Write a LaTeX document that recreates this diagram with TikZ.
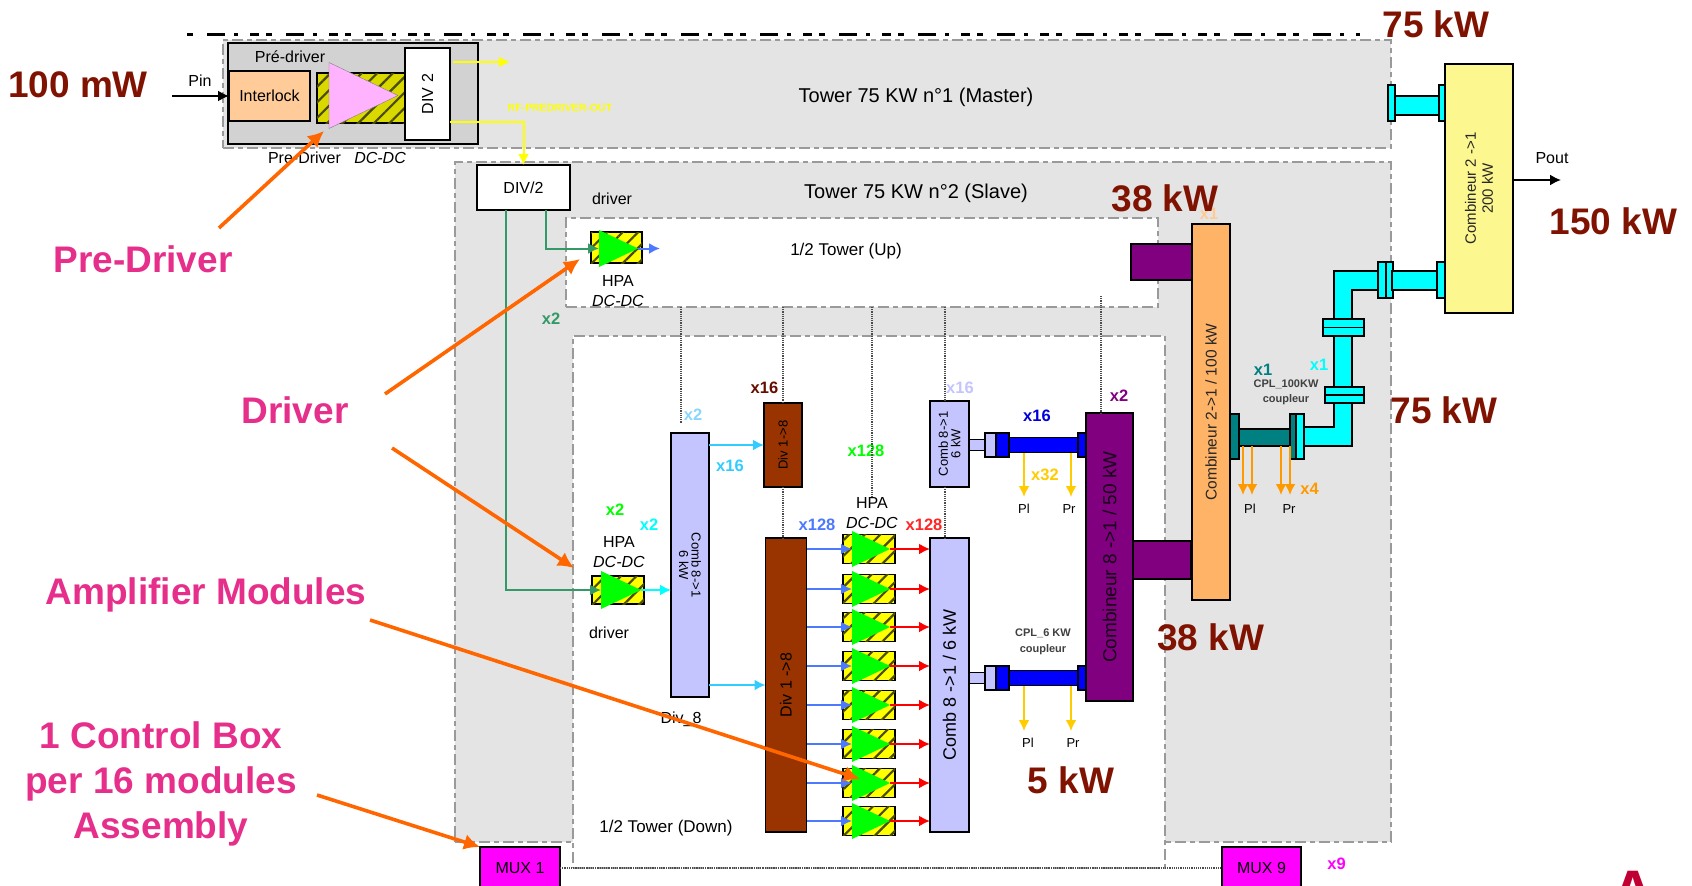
\documentclass[tikz,border=0pt]{standalone}
\usepackage{fontspec}
\usepackage{graphicx}
\setmainfont{Liberation Sans}
\usetikzlibrary{arrows.meta,positioning,shapes.geometric,patterns.meta}
\definecolor{towergray}{HTML}{E4E4E4}
\definecolor{pregray}{HTML}{D2D2D2}
\definecolor{edgegray}{HTML}{9A9A9A}
\definecolor{maroon}{HTML}{7F1200}
\definecolor{callpink}{HTML}{E62E8B}
\definecolor{callorange}{HTML}{FF6600}
\definecolor{lavend}{HTML}{C4C4FF}
\definecolor{brownbox}{HTML}{993300}
\definecolor{purplebox}{HTML}{800080}
\definecolor{orangebox}{HTML}{FFB366}
\definecolor{paleyel}{HTML}{FDF78F}
\definecolor{peach}{HTML}{FFCC99}
\definecolor{rfgreen}{HTML}{339966}
\definecolor{tealbox}{HTML}{008080}
\definecolor{logored}{HTML}{C00033}
\definecolor{pcyan}{HTML}{00FFFF}
\definecolor{pyellow}{HTML}{FFFF00}
\definecolor{pmagenta}{HTML}{FF00FF}
\definecolor{pgreen}{HTML}{00FF00}
\definecolor{ppink}{HTML}{FFB3FF}
\definecolor{skyline}{HTML}{33CCFF}
\definecolor{modblue}{HTML}{4D79FF}
\definecolor{amber}{HTML}{FFCC00}
\definecolor{porange}{HTML}{FF9900}
\begin{document}
\begin{tikzpicture}[x=1pt,y=-1pt,every node/.style={inner sep=0pt,outer sep=0pt,font=\fontsize{16}{18}\selectfont,align=center}, big/.style={text=maroon,font=\fontsize{37}{40}\bfseries\selectfont}, call/.style={text=callpink,font=\fontsize{37}{45}\bfseries\selectfont}, tag/.style={font=\fontsize{16.5}{18}\bfseries\selectfont}, tiny/.style={font=\fontsize{11}{14}\bfseries\selectfont,text=black!75}, wh/.style 2 args={minimum width=#1,minimum height=#2}, box/.style={draw=black,line width=1.8pt,rectangle}, zone/.style={draw=edgegray,line width=1.6pt,dash pattern=on 11pt off 4pt on 5pt off 4pt,rectangle}, hatch/.style={box,fill=#1,postaction={pattern={Lines[angle=45,distance=11pt,line width=2.2pt]},pattern color=black!70!pyellow}}, amp/.style={isosceles triangle,isosceles triangle apex angle=60,isosceles triangle stretches,shape border rotate=0,anchor=lower side,fill=#1}, pipe/.style={->,line width=2pt,color=#1}, callout/.style={-{Latex[length=16pt,width=16pt]},line width=3.6pt,color=callorange}, dots/.style={densely dotted,line width=1.2pt,color=black!70}, >={Latex[length=11pt,width=11pt]}]
\clip (0,0) rectangle (1692,886);
\draw[line width=2.6pt,dash pattern=on 6pt off 14pt on 18pt off 9pt on 4pt off 12pt on 9pt off 7pt] (187,34.5) -- (1360,34.5);
\node[zone,fill=towergray,wh={1168}{108}] (tower1) at (807,94) {};
\node[zone,fill=towergray,wh={936}{680}] (tower2) at (923,502) {};
\node[zone,fill=white,wh={592}{89}] (uphalf) at (862,262.5) {};
\node[zone,fill=white,wh={592}{532}] (downhalf) at (869,602) {};
\node[font=\fontsize{20}{22}\selectfont] (t1lab) at (916,97) {Tower 75 KW n°1 (Master)};
\node[font=\fontsize{20}{22}\selectfont] (t2lab) at (916,193) {Tower 75 KW n°2 (Slave)};
\node[font=\fontsize{17}{20}\selectfont] (uplab) at (846,251) {1/2 Tower (Up)};
\node[font=\fontsize{17}{20}\selectfont] (downlab) at (666,828) {1/2 Tower (Down)};
\node[box,fill=pregray,wh={250}{101}] (prebox) at (353,93.5) {};
\node[box,fill=peach,wh={81}{50}] (interlock) at (269.5,96) {Interlock};
\node[hatch=pyellow!85!black,wh={88}{50}] (predc) at (361,98) {};
\node[amp=ppink,draw=gray,minimum width=66,minimum height=69] (pretri) at (329,95.5) {};
\node[box,fill=white,wh={45}{92}] (div2) at (427.5,94) {\rotatebox{90}{DIV 2}};
\node[box,fill=white,wh={93}{45}] (div2b) at (523.5,187.5) {DIV/2};
\node (prelab) at (290,57) {Pré-driver};
\node (pinlab) at (200,81) {Pin};
\node (predclab) at (337,158) {Pre-Driver\ \ \ \textit{DC-DC}};
\node[font=\fontsize{10.5}{12}\bfseries\selectfont,text=pyellow] (rflab) at (560,108) {RF-PREDRIVER-OUT};
\node (drvup) at (612,199) {driver};
\node[hatch=pyellow,wh={51}{31}] (uphpa) at (616.5,247.5) {};
\node[amp=pgreen,minimum width=37,minimum height=39] (uptri) at (599,248.5) {};
\node (uphpalab) at (618,291) {HPA\\[2pt]\textit{DC-DC}};
\node[tag,text=rfgreen] (x2a) at (551,319) {x2};
\node[hatch=pyellow,wh={52}{28}] (drvbox) at (618,590) {};
\node[amp=pgreen,minimum width=38,minimum height=40] (drvtri) at (601,590) {};
\node (drvhpa) at (619,552) {HPA\\[2pt]\textit{DC-DC}};
\node (drvlab) at (609,633) {driver};
\node[tag,text=pgreen] (x2b) at (615,510) {x2};
\node[tag,text=pcyan] (x2c) at (649,525) {x2};
\node[box,fill=lavend,wh={38}{264}] (comb6w) at (690,565) {\rotatebox{-90}{\shortstack{\fontsize{13}{15}\selectfont Comb 8->1\\\fontsize{13}{15}\selectfont 6 kW}}};
\node[box,fill=brownbox,wh={38}{84}] (divsmall) at (783,445) {\rotatebox{90}{\fontsize{13}{15}\selectfont Div 1->8}};
\node[box,fill=brownbox,wh={41}{294}] (divbig) at (786,685) {\rotatebox{90}{Div 1 ->8}};
\node[box,fill=lavend,wh={39}{86}] (combsmall) at (949.5,444) {\rotatebox{90}{\shortstack{\fontsize{13}{15}\selectfont Comb 8->1\\\fontsize{13}{15}\selectfont 6 kW}}};
\node[box,fill=lavend,wh={39}{294}] (combbig) at (949.5,685) {\rotatebox{90}{\fontsize{18}{20}\selectfont Comb 8 ->1 / 6 kW}};
\node (div8lab) at (681,719) {Div\_8};
\node[tag,text=lavend!70!pcyan] (x2d) at (693,415) {x2};
\node[tag,text=maroon!80!black] (x16a) at (764.5,388) {x16};
\node[tag,text=skyline] (x16b) at (730,466) {x16};
\node[tag,text=pgreen] (x128a) at (866,451) {x128};
\node[tag,text=lavend] (x16c) at (960,388) {x16};
\node[tag,text=blue!85!black] (x16d) at (1037,416) {x16};
\node[tag,text=modblue] (x128b) at (817,525) {x128};
\node[tag,text=red!85!white] (x128c) at (924,525) {x128};
\node (hpalab) at (872,513) {HPA\\[2pt]\textit{DC-DC}};
\foreach \n/\y in {a/445,b/678}{
\node[box,fill=lavend,wh={16}{11}] (stub\n) at (977,\y) {};
\node[box,fill=lavend,wh={11}{24}] (lav\n) at (990.5,\y) {};
\node[box,fill=blue,wh={13}{24}] (flange\n) at (1002.5,\y) {};
\node[box,fill=blue,wh={69}{15}] (tube\n) at (1043.5,\y) {};
\node[box,fill=blue,wh={8}{24}] (flangr\n) at (1082,\y) {};
}
\coordinate (pla) at (1024,497);
\coordinate (pra) at (1071,497);
\coordinate (plb) at (1024,731);
\coordinate (prb) at (1071,731);
\node[font=\fontsize{13}{15}\selectfont] (pllaba) at (1024,509) {Pl};
\node[font=\fontsize{13}{15}\selectfont] (prlaba) at (1069,509) {Pr};
\node[font=\fontsize{13}{15}\selectfont] (pllabb) at (1028,743) {Pl};
\node[font=\fontsize{13}{15}\selectfont] (prlabb) at (1073,743) {Pr};
\node[tag,text=amber] (x32) at (1045,475) {x32};
\node[tiny] (cpl6) at (1043,642) {CPL\_6 KW\\[2pt]coupleur};
\node[box,fill=purplebox,wh={47}{288},text=black!80!purplebox] (comb50) at (1109.5,557) {\rotatebox{90}{\fontsize{19}{22}\selectfont Combineur 8 ->1 / 50 kW}};
\node[box,fill=purplebox,wh={58}{38}] (stublow) at (1162,560) {};
\node[box,fill=purplebox,wh={61}{36}] (stubup) at (1161.5,262) {};
\node[box,fill=orangebox,wh={38}{376},text=black!85] (comb100) at (1211,412) {\rotatebox{90}{\fontsize{15.5}{18}\selectfont Combineur 2->1 / 100 kW}};
\node[tag,text=purplebox] (x2e) at (1119,396) {x2};
\node[tag,text=orangebox!70!white] (x1a) at (1209,214) {x1};
\draw[box,fill=pcyan] (1378,271) -- (1334,271) -- (1334,427) -- (1304,427) -- (1304,446) -- (1352,446) -- (1352,290) -- (1378,290) -- cycle;
\node[box,fill=tealbox,wh={9}{45}] (tflange) at (1234.5,436.5) {};
\node[box,fill=tealbox,wh={51}{17}] (ttube) at (1264.5,437.5) {};
\node[box,fill=tealbox,wh={6}{45}] (tflanger) at (1293,436.5) {};
\node[box,fill=pcyan,wh={8}{45}] (cflange) at (1300,436.5) {};
\node[box,fill=pcyan,wh={41}{17}] (vflangea) at (1343.5,327.5) {};
\node[box,fill=pcyan,wh={39}{15.5}] (vflangeb) at (1344.5,395) {};
\node[box,fill=pcyan,wh={8}{36}] (dflangea) at (1382,280) {};
\node[box,fill=pcyan,wh={7}{36}] (dflangeb) at (1389.5,280) {};
\node[box,fill=pcyan,wh={45}{19}] (ctube) at (1414.5,280.5) {};
\node[box,fill=pcyan,wh={8}{36}] (cflanger) at (1441,280) {};
\node[box,fill=pcyan,wh={7}{36}] (topleft) at (1391.5,103) {};
\node[box,fill=pcyan,wh={44}{19}] (toptube) at (1417,105.5) {};
\node[box,fill=pcyan,wh={6}{36}] (topright) at (1442,103) {};
\node[box,fill=paleyel,wh={68}{249},text=black!85] (comb200) at (1479,188.5) {\rotatebox{90}{\shortstack{\fontsize{15}{18}\selectfont Combineur 2 ->1\\[3pt]\fontsize{15}{18}\selectfont 200 kW}}};
\draw[line width=1.2pt] (vflangea.west) -- (vflangea.east);
\draw[line width=1.2pt] (vflangeb.west) -- (vflangeb.east);
\node (poutlab) at (1552,158) {Pout};
\coordinate (pout) at (1561,180);
\coordinate (pinin) at (172,96);
\node[tag,text=tealbox] (x1b) at (1263,370) {x1};
\node[tag,text=pcyan] (x1c) at (1319,365) {x1};
\node[tiny] (cpl100) at (1286,392) {CPL\_100KW\\[1pt]coupleur};
\node[tag,text=porange] (x4) at (1309.5,489) {x4};
\node[font=\fontsize{13}{15}\selectfont] (pl100) at (1250,509) {Pl};
\node[font=\fontsize{13}{15}\selectfont] (pr100) at (1289,509) {Pr};
\coordinate (arra) at (1243,495);
\coordinate (arrb) at (1252,495);
\coordinate (arrc) at (1281,495);
\coordinate (arrd) at (1290,495);
\node[box,fill=pmagenta,wh={80}{42}] (mux1) at (520,868) {MUX 1};
\node[box,fill=pmagenta,wh={79}{42}] (mux9) at (1261.5,868) {MUX 9};
\node[tag,text=pmagenta] (x9) at (1336.5,864) {x9};
\draw[dots] (mux1.east |- downhalf.south) -- (mux9.west |- downhalf.south);
\coordinate (dota) at (681,423);
\coordinate (dotb) at (1101,296);
\draw[dots] (uphalf.south -| dota) -- (dota);
\draw[dots] (uphalf.south -| divsmall) -- (divsmall.north);
\draw[dots] (divsmall.south) -- (divsmall.south |- divbig.north);
\draw[dots] (uphalf.south -| hpalab) -- (hpalab.north);
\draw[dots] ([xshift=-4.5pt]combsmall.north |- uphalf.south) -- ([xshift=-4.5pt]combsmall.north);
\draw[dots] ([xshift=-4.5pt]combsmall.south) -- ([xshift=-4.5pt]combbig.north);
\draw[dots] (dotb) -- (dotb |- comb50.north);
\draw[->,line width=1.8pt] (pinin) -- (interlock.west);
\draw[->,line width=1.8pt] ([yshift=8.5pt]comb200.east) -- (pout);
\draw[pipe=pyellow] ([xshift=3pt,yshift=32pt]div2.east) -- ++(57,0);
\draw[pipe=pyellow] ([yshift=-28pt]div2.east) -| (div2b.north);
\draw[pipe=rfgreen] ([xshift=-18pt]div2b.south) |- (drvtri.lower side);
\draw[pipe=rfgreen] ([xshift=22.5pt]div2b.south) |- (uptri.lower side);
\draw[pipe=modblue] (uptri.apex) -- ++(22,0);
\draw[pipe=pcyan] (drvtri.apex) -- (comb6w.west |- drvtri);
\draw[pipe=skyline] (comb6w.east |- divsmall) -- (divsmall.west);
\draw[pipe=skyline] (comb6w.east |- divbig) -- (divbig.west);
\draw[pipe=amber] (tubea.south -| pla) -- (pla);
\draw[pipe=amber] (tubea.south -| pra) -- (pra);
\draw[pipe=amber] (tubeb.south -| plb) -- (plb);
\draw[pipe=amber] (tubeb.south -| prb) -- (prb);
\draw[pipe=porange] (ttube.south -| arra) -- (arra);
\draw[pipe=porange] (ttube.south -| arrb) -- (arrb);
\draw[pipe=porange] (ttube.south -| arrc) -- (arrc);
\draw[pipe=porange] (ttube.south -| arrd) -- (arrd);
\foreach \i/\y in {1/549,2/589,3/627,4/666,5/705,6/744,7/783,8/821}{
\node[hatch=pyellow,wh={52}{29}] (hat\i) at (869,\y) {};
\node[amp=pgreen,minimum width=36,minimum height=38] (tri\i) at (852,\y) {};
\draw[pipe=modblue] (divbig.east |- hat\i) -- (tri\i.lower side);
\draw[pipe=red] (tri\i.apex) -- (combbig.west |- hat\i);
}
\node[big] (p100) at (78,85) {100 mW};
\node[big] (p75a) at (1436,24) {75 kW};
\node[big] (p38a) at (1165,198) {38 kW};
\node[big] (p150) at (1613.5,221) {150 kW};
\node[big] (p75b) at (1444,410) {75 kW};
\node[big] (p38b) at (1210.5,637) {38 kW};
\node[big] (p5) at (1071,780) {5 kW};
\node[call] (cpre) at (143,259) {Pre-Driver};
\node[call] (cdrv) at (295,410) {Driver};
\node[call] (camp) at (206,595) {Amplifier Modules};
\node[call] (cbox) at (161,784) {1 Control Box\\per 16 modules\\Assembly};
\node[font=\fontsize{60}{60}\bfseries\selectfont,text=logored,anchor=base] (logo) at (1633,912) {A};
\coordinate (fpre) at (219,228);
\coordinate (hpre) at (324,131);
\coordinate (fdrva) at (385,394);
\coordinate (hdrva) at (580,259);
\coordinate (fdrvb) at (392,448);
\coordinate (hdrvb) at (574,568);
\coordinate (famp) at (370,620);
\coordinate (hamp) at (860,779);
\coordinate (fbox) at (317,795);
\coordinate (hbox) at (480,847);
\draw[callout] (fpre) -- (hpre);
\draw[callout] (fdrva) -- (hdrva);
\draw[callout] (fdrvb) -- (hdrvb);
\draw[callout] (famp) -- (hamp);
\draw[callout] (fbox) -- (hbox);
\end{tikzpicture}
\end{document}
